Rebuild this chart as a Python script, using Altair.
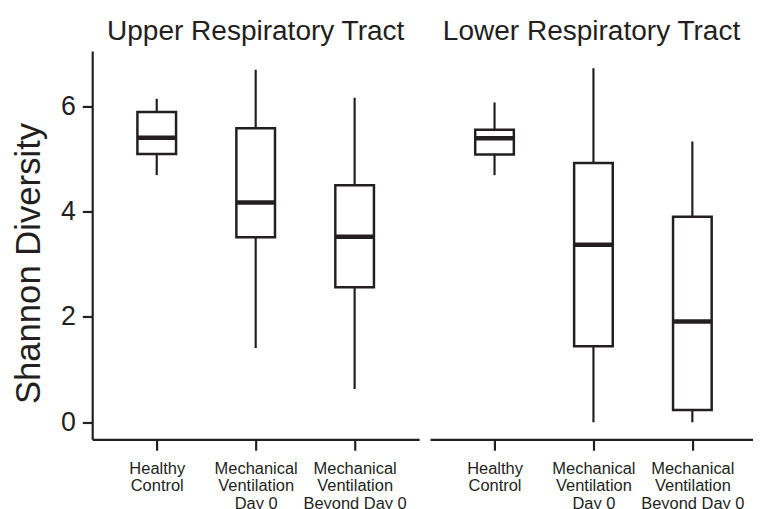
import altair as alt
import pandas as pd

# ---- data ----
categories = ["Healthy Control", "Mechanical Ventilation Day 0", "Mechanical Ventilation Beyond Day 0"]
label_lines = [["Healthy", "Control"], ["Mechanical", "Ventilation", "Day 0"], ["Mechanical", "Ventilation", "Beyond Day 0"]]
panels = ["Upper Respiratory Tract", "Lower Respiratory Tract"]

upper_low = [4.69, 1.41, 0.63]
upper_q1 = [5.09, 3.51, 2.56]
upper_median = [5.40, 4.17, 3.52]
upper_q3 = [5.89, 5.58, 4.50]
upper_high = [6.14, 6.69, 6.16]

lower_low = [4.69, 0.00, 0.00]
lower_q1 = [5.08, 1.44, 0.23]
lower_median = [5.39, 3.37, 1.91]
lower_q3 = [5.55, 4.92, 3.90]
lower_high = [6.07, 6.72, 5.33]

y_ticks = [0, 2, 4, 6]

INK = "#231f20"
FONT = "Liberation Sans"
STEP = 103.0  # px between category positions

label_expr = " : ".join(
    f"datum.value == {i} ? {lines!r}" for i, lines in enumerate(label_lines)
) + " : ''"


def make_df(low, q1, med, q3, high):
    return pd.DataFrame({
        "idx": list(range(len(categories))), "cat": categories,
        "low": low, "q1": q1, "median": med, "q3": q3, "high": high,
    })


def panel(df, title, show_y, width):
    lo = -0.602
    hi = lo + width / STEP
    xscale = alt.Scale(domain=[lo, hi], nice=False, zero=False)
    x = alt.X(
        "idx:Q",
        scale=xscale,
        axis=alt.Axis(
            title=None,
            values=list(range(len(categories))),
            labelAngle=0,
            labelExpr=label_expr,
            labelFontSize=16.6,
            labelLineHeight=18,
            labelPadding=10,
            labelFlush=False,
            labelOverlap=False,
            tickSize=11,
        ),
    )
    yscale = alt.Scale(domain=[-0.325, 7.047], nice=False, zero=False)
    if show_y:
        yaxis = alt.Axis(
            title="Shannon Diversity",
            values=y_ticks,
            titleFontSize=35,
            titleFontWeight="normal",
            titlePadding=14,
            titleY=214,
            labelFontSize=27,
            labelPadding=7,
            tickSize=10,
        )
    else:
        yaxis = None
    base = alt.Chart(df)
    whisker = base.mark_rule(color=INK, strokeWidth=2.2).encode(
        x=x, y=alt.Y("low:Q", scale=yscale, axis=yaxis), y2="high:Q"
    )
    box = base.mark_bar(orient="vertical", width=39, fill="white", stroke=INK, strokeWidth=2.5).encode(
        x=x, y=alt.Y("q1:Q", scale=yscale), y2="q3:Q"
    )
    med = base.mark_tick(orient="horizontal", color=INK, size=39, thickness=4.5, opacity=1).encode(
        x=x, y=alt.Y("median:Q", scale=yscale)
    )
    return alt.layer(whisker, box, med).properties(
        width=width,
        height=392,
        title=alt.TitleParams(title, fontSize=28.3, fontWeight="normal", offset=5, anchor="middle", color=INK, font=FONT),
    )


left = panel(make_df(upper_low, upper_q1, upper_median, upper_q3, upper_high), panels[0], True, 330)
right = panel(make_df(lower_low, lower_q1, lower_median, lower_q3, lower_high), panels[1], False, 326)

chart = (
    alt.hconcat(left, right, spacing=11)
    .properties(padding={"left": 3, "top": 6, "right": 0, "bottom": 0})
    .configure_view(stroke=None)
    .configure_axis(
        grid=False,
        domainColor=INK,
        domainWidth=2.2,
        tickColor=INK,
        tickWidth=2.2,
        labelColor=INK,
        titleColor=INK,
        labelFont=FONT,
        titleFont=FONT,
    )
    .configure_title(font=FONT, color=INK)
)

chart.save("out.html", embed_options={"renderer": "svg", "actions": False})
